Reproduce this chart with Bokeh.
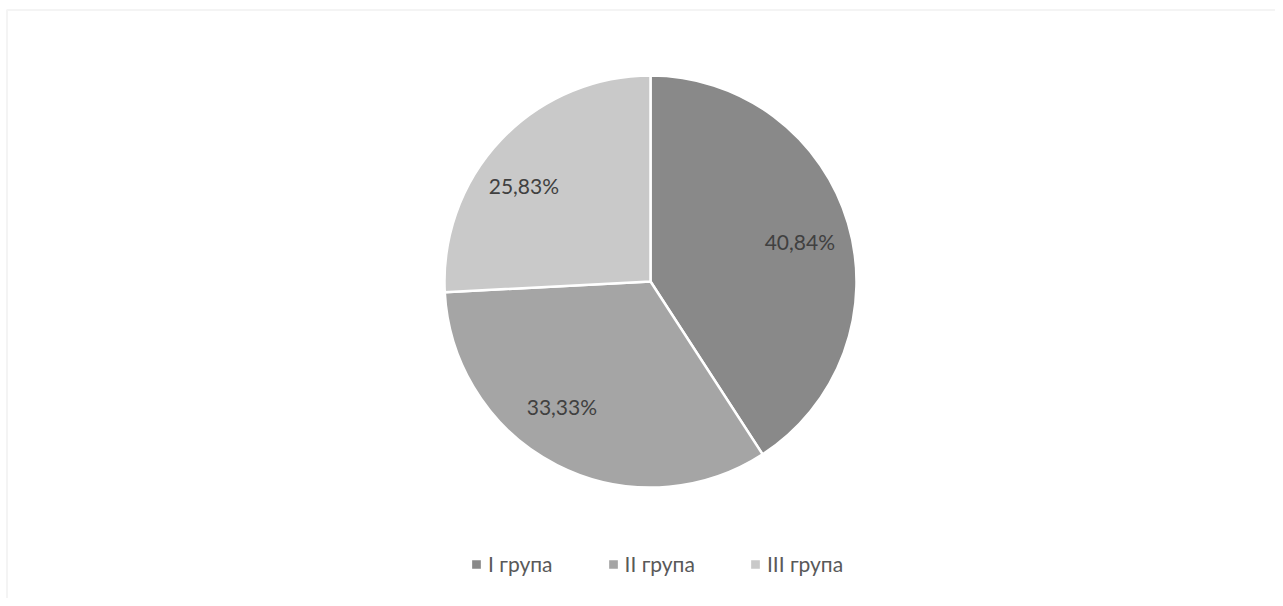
import math
from bokeh.plotting import figure
from bokeh.models import ColumnDataSource, Range1d, BoxAnnotation, Legend, LegendItem
from bokeh.core.properties import value
from bokeh.embed import file_html
from bokeh.resources import INLINE

groups = ["I група", "II група", "III група"]
shares = [40.84, 33.33, 25.83]
labels = ["40,84%", "33,33%", "25,83%"]
colors = ["#898989", "#a5a5a5", "#c9c9c9"]

W, H = 1275, 598
CX, CY, R = 650, 317, 206

total = sum(shares)
starts, ends, lx, ly = [], [], [], []
cum = 0.0
for s in shares:
    a0 = math.pi / 2 - 2 * math.pi * cum / total
    cum += s
    a1 = math.pi / 2 - 2 * math.pi * cum / total
    starts.append(a1)
    ends.append(a0)
    mid = (a0 + a1) / 2
    c, sn = math.cos(mid), math.sin(mid)
    lx.append(CX - 5 + 0.68 * R * c + math.copysign(20, c))
    ly.append(CY + 0.68 * R * sn)

src = ColumnDataSource(dict(group=groups, share=shares, label=labels, color=colors,
                            start=starts, end=ends, lx=lx, ly=ly))

p = figure(width=W, height=H, output_backend="svg", toolbar_location=None,
           x_axis_type=None, y_axis_type=None, min_border=0,
           x_range=Range1d(0, W), y_range=Range1d(0, H))
p.outline_line_color = None
p.background_fill_color = "white"
p.border_fill_color = "white"

p.add_layout(BoxAnnotation(left=6.5, top=H - 9.5, right=W + 500, bottom=-500,
                           fill_color=None, line_color="#d9d9d9", line_width=2))

wr = p.wedge(x=CX, y=CY, radius=R, start_angle="start", end_angle="end",
             direction="anticlock", fill_color="color", line_color="white",
             line_width=2.5, source=src)

p.text(x="lx", y="ly", text="label", source=src, text_align="center",
       text_baseline="middle", text_font=value("Lato"), text_font_size="21px",
       text_color="#404040")

items = [LegendItem(label=g, renderers=[wr], index=i) for i, g in enumerate(groups)]
legend = Legend(items=items, orientation="horizontal", location=(469, 22),
                border_line_color=None, background_fill_alpha=0, padding=0, margin=0,
                spacing=53, label_standoff=5, glyph_width=14, glyph_height=14,
                label_text_font="Lato", label_text_font_size="21px",
                label_text_color="#595959")
p.add_layout(legend, "center")

open("out.html", "w").write(file_html(p, INLINE))
